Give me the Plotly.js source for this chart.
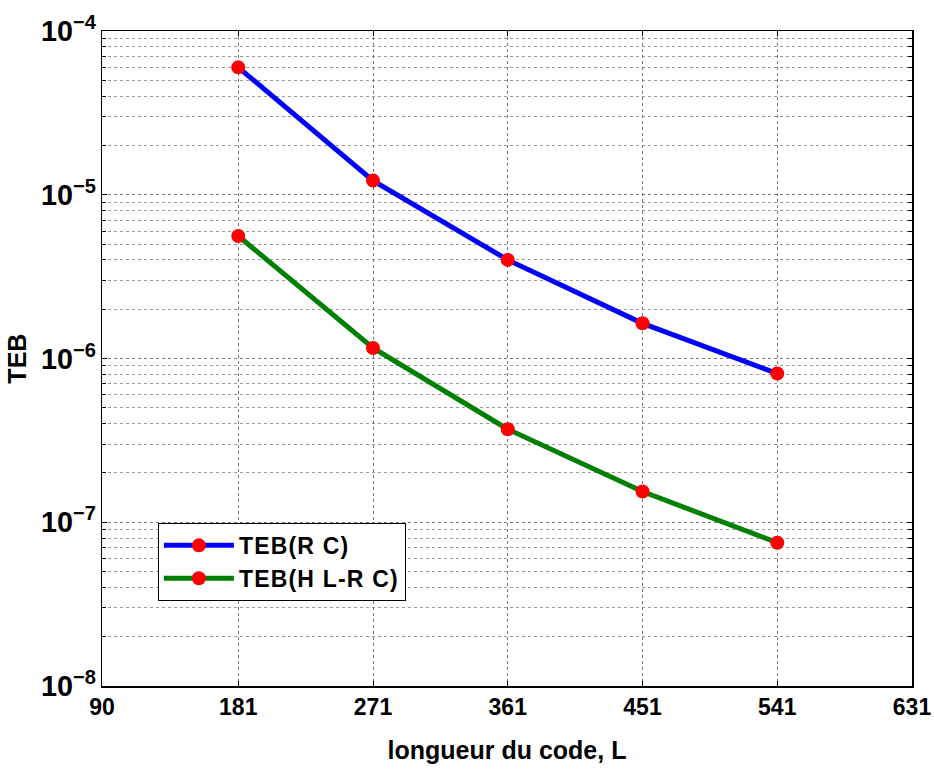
<!DOCTYPE html>
<html>
<head>
<meta charset="utf-8">
<script src="https://cdn.plot.ly/plotly-3.0.1.min.js"></script>
<style>html,body{margin:0;padding:0;background:#fff;}#chart{width:934px;height:769px;}
.legendtext{letter-spacing:1.2px;}</style>
</head>
<body>
<div id="chart"></div>
<script>
const codeLength = [181, 271, 361, 451, 541];
const tebRC = [6.0e-5, 1.22e-5, 4.0e-6, 1.64e-6, 8.1e-7];
const tebHLRC = [5.6e-6, 1.16e-6, 3.7e-7, 1.54e-7, 7.5e-8];
const xTicks = [90, 181, 271, 361, 451, 541, 631];
const seriesNames = ['TEB(R C)', 'TEB(H L-R C)'];
const yTitle = 'TEB';
const xTitle = 'longueur du code, L';

const font = {family: 'Liberation Sans, Arial, sans-serif', color: '#000'};
const traces = [
  {x: codeLength, y: tebRC, name: seriesNames[0], mode: 'lines+markers',
   line: {color: '#0000ff', width: 5}, marker: {color: '#ff0000', size: 14}},
  {x: codeLength, y: tebHLRC, name: seriesNames[1], mode: 'lines+markers',
   line: {color: '#008000', width: 5}, marker: {color: '#ff0000', size: 14}}
];
const layout = {
  width: 934, height: 769,
  margin: {l: 102, r: 22, t: 31, b: 83},
  paper_bgcolor: '#fff', plot_bgcolor: '#fff',
  showlegend: true,
  legend: {x: 0.069, y: 0.249, xanchor: 'left', yanchor: 'top',
    bordercolor: '#000', borderwidth: 1, bgcolor: '#fff',
    font: {family: font.family, size: 23, weight: 'bold', color: '#000'},
    tracegroupgap: 0, itemwidth: 70},
  xaxis: {
    range: [90, 631], tickvals: xTicks, ticktext: xTicks.map(String),
    ticks: 'inside', ticklen: 5, tickcolor: '#000', mirror: 'ticks',
    showline: true, linecolor: '#000', linewidth: 1.5,
    showgrid: true, gridcolor: '#777', griddash: 'dot', gridwidth: 1,
    zeroline: false,
    tickfont: {family: font.family, size: 23, weight: 'bold', color: '#000'},
    title: {text: xTitle, standoff: 22,
      font: {family: font.family, size: 25, weight: 'bold', color: '#000'}}
  },
  yaxis: {
    type: 'log', range: [-8, -4], dtick: 1, exponentformat: 'power',
    ticks: 'inside', ticklen: 5, tickcolor: '#000', mirror: 'ticks',
    showline: true, linecolor: '#000', linewidth: 1.5,
    showgrid: true, gridcolor: '#777', griddash: 'dot', gridwidth: 1,
    zeroline: false,
    minor: {ticks: 'inside', ticklen: 4, tickcolor: '#000', showgrid: true,
      gridcolor: '#999', griddash: 'dot', gridwidth: 1},
    tickfont: {family: font.family, size: 23, weight: 'bold', color: '#000'}
  },
  annotations: [{
    text: yTitle, xref: 'paper', yref: 'paper', x: -0.106, y: 0.5,
    xanchor: 'center', yanchor: 'middle', textangle: -90, showarrow: false,
    font: {family: font.family, size: 25, weight: 'bold', color: '#000'}
  }]
};
Plotly.newPlot('chart', traces, layout, {displayModeBar: false, staticPlot: true});
</script>
</body>
</html>
